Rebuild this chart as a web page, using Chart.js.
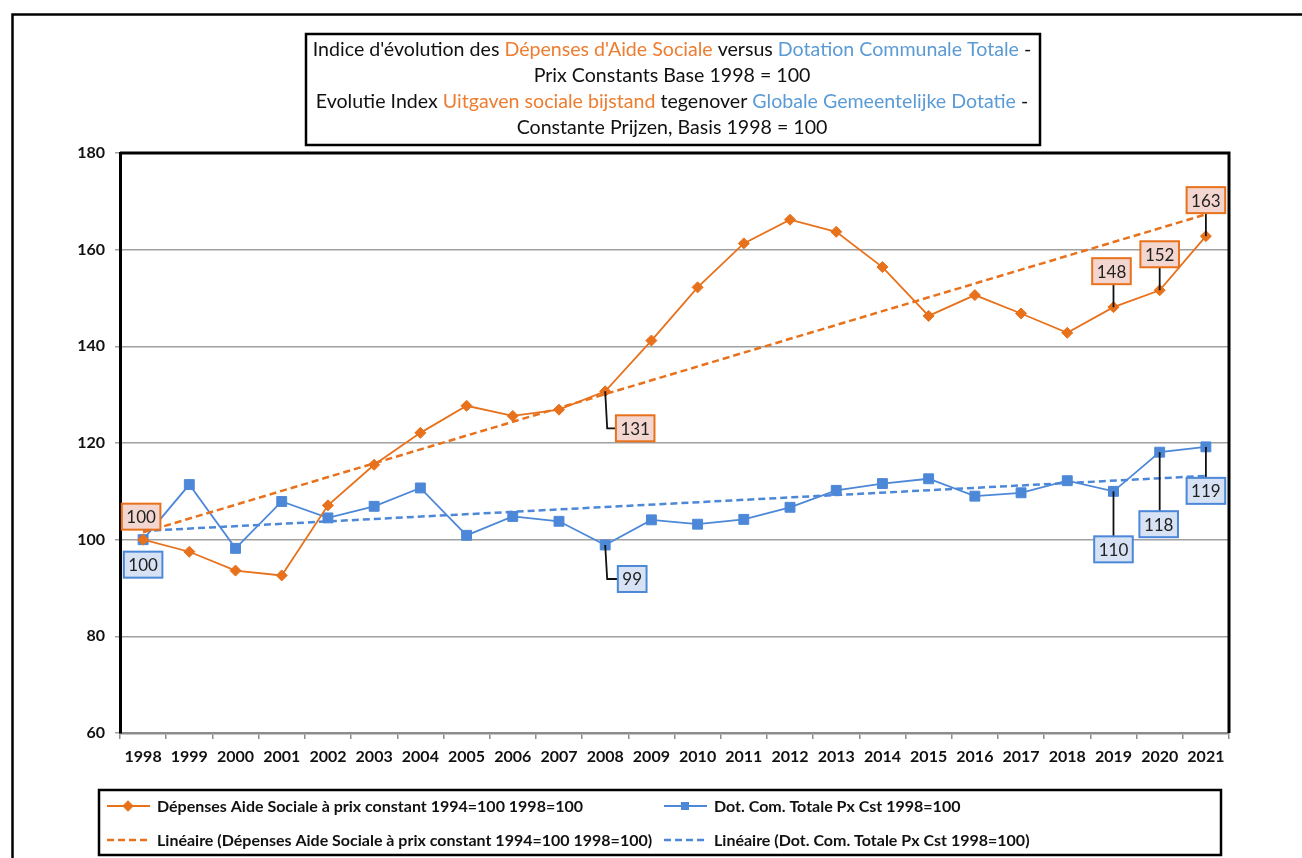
<!DOCTYPE html>
<html>
<head>
<meta charset="utf-8">
<title>Indice d'évolution - Dépenses d'Aide Sociale / Dotation Communale</title>
<script src="https://cdn.jsdelivr.net/npm/chart.js"></script>
<style>
  html, body { margin: 0; padding: 0; background: #fff; }
  #wrap { width: 1302px; height: 858px; }
</style>
</head>
<body>
<div id="wrap"><canvas id="chart" width="1302" height="858"></canvas></div>
<script>
// data
const years = ['1998','1999','2000','2001','2002','2003','2004','2005','2006','2007','2008','2009',
               '2010','2011','2012','2013','2014','2015','2016','2017','2018','2019','2020','2021'];
const aideSociale = [100, 97.5, 93.6, 92.6, 107.1, 115.5, 122.1, 127.7, 125.6, 126.9, 130.7, 141.2,
                     152.2, 161.3, 166.2, 163.7, 156.4, 146.3, 150.6, 146.8, 142.8, 148.1, 151.6, 162.8];
const dotation = [100, 111.4, 98.2, 107.9, 104.5, 106.9, 110.7, 100.9, 104.8, 103.8, 98.9, 104.1,
                  103.2, 104.2, 106.7, 110.2, 111.6, 112.6, 109.0, 109.7, 112.2, 110.0, 118.1, 119.2];
// trend lines: end points
const aideTrend = [101.5, 167.3];
const dotTrend = [101.8, 113.2];
const yTicks = [60, 80, 100, 120, 140, 160, 180];
// which points carry a value label
const aideLabelIdx = [0, 10, 21, 22, 23];
const dotLabelIdx = [0, 10, 21, 22, 23];

const legendNames = [
  'Dépenses Aide Sociale à prix constant 1994=100 1998=100',
  'Dot. Com. Totale Px Cst 1998=100',
  'Linéaire (Dépenses Aide Sociale à prix constant 1994=100 1998=100)',
  'Linéaire (Dot. Com. Totale Px Cst 1998=100)'
];
const titleLines = [
  [['Indice d\'évolution des ', 'k'], ['Dépenses d\'Aide Sociale', 'o'], [' versus ', 'k'], ['Dotation Communale Totale', 'b'], [' -', 'k']],
  [['Prix Constants Base 1998 = 100', 'k']],
  [['Evolutie Index ', 'k'], ['Uitgaven sociale bijstand', 'o'], [' tegenover ', 'k'], ['Globale Gemeentelijke Dotatie', 'b'], [' -', 'k']],
  [['Constante Prijzen, Basis 1998 = 100', 'k']]
];

const ORANGE = '#e8711c';
const BLUE = '#4d88d8';
const FONT = 'Lato, "Open Sans", sans-serif';
const txtColors = { k: '#111', o: '#ed7d31', b: '#5b9bd5' };

// label box placement: offset of box centre from the point, and leader type
const labelLayout = {
  0: { 0: { dx: -2, dy: -23, lead: 'none' }, 10: { dx: 30, dy: 37, lead: 'elbow' },
       21: { dx: -2, dy: -36, lead: 'up' }, 22: { dx: 0, dy: -36, lead: 'up' }, 23: { dx: 0, dy: -36, lead: 'up' } },
  1: { 0: { dx: 0, dy: 25, lead: 'none' }, 10: { dx: 27, dy: 34, lead: 'elbow' },
       21: { dx: 0, dy: 58, lead: 'down' }, 22: { dx: -1, dy: 72, lead: 'down' }, 23: { dx: 0, dy: 44, lead: 'down' } }
};

function trendSeries(ends) {
  const arr = years.map(() => null);
  arr[0] = ends[0];
  arr[years.length - 1] = ends[1];
  return arr;
}

const framePlugin = {
  id: 'frame',
  beforeDraw(chart) {
    const ctx = chart.ctx;
    ctx.save();
    ctx.fillStyle = '#fff';
    ctx.fillRect(0, 0, chart.width, chart.height);
    ctx.strokeStyle = '#000';
    ctx.lineWidth = 2.5;
    ctx.strokeRect(12.5, 14.5, 1400, 1000);
    ctx.restore();
  },
  afterDraw(chart) {
    const ctx = chart.ctx;
    const a = chart.chartArea;
    ctx.save();
    // plot border top/right
    ctx.strokeStyle = '#000';
    ctx.lineWidth = 3;
    ctx.beginPath();
    ctx.moveTo(a.left, a.top);
    ctx.lineTo(a.right, a.top);
    ctx.lineTo(a.right, a.bottom);
    ctx.stroke();

    // title box
    ctx.lineWidth = 2.5;
    ctx.fillStyle = '#fff';
    ctx.fillRect(306, 34, 734, 111);
    ctx.strokeRect(306, 34, 734, 111);
    ctx.font = '19.6px ' + FONT;
    ctx.textBaseline = 'middle';
    ctx.textAlign = 'left';
    const lineY = [50, 76, 102, 128];
    titleLines.forEach((parts, i) => {
      const w = parts.reduce((s, p) => s + ctx.measureText(p[0]).width, 0);
      let x = 672 - w / 2;
      parts.forEach(p => {
        ctx.fillStyle = txtColors[p[1]];
        ctx.fillText(p[0], x, lineY[i]);
        x += ctx.measureText(p[0]).width;
      });
    });

    // legend box
    ctx.strokeStyle = '#000';
    ctx.lineWidth = 2.5;
    ctx.strokeRect(99, 790, 1122, 65);
    ctx.font = 'bold 16px ' + FONT;
    const ds = chart.data.datasets;
    const slots = [[107, 806], [664, 806], [107, 840], [664, 840]];
    const order = [2, 3, 0, 1];
    slots.forEach((s, i) => {
      const d = ds[order[i]];
      ctx.save();
      ctx.strokeStyle = d.borderColor;
      ctx.lineWidth = d.borderDash ? 2.5 : 2;
      ctx.setLineDash(d.borderDash || []);
      ctx.beginPath();
      ctx.moveTo(s[0], s[1]);
      ctx.lineTo(s[0] + 43, s[1]);
      ctx.stroke();
      ctx.restore();
      if (!d.borderDash) {
        ctx.save();
        ctx.fillStyle = d.pointBackgroundColor;
        ctx.translate(s[0] + 21, s[1]);
        if (d.pointStyle === 'rectRot') ctx.rotate(Math.PI / 4);
        ctx.fillRect(-4, -4, 8, 8);
        ctx.restore();
      }
      ctx.fillStyle = '#111';
      ctx.fillText(legendNames[i], s[0] + 50, s[1] + 1);
    });
    ctx.restore();
  }
};

const labelPlugin = {
  id: 'valueLabels',
  afterDatasetsDraw(chart) {
    const ctx = chart.ctx;
    const sets = [
      { dsIndex: 2, values: aideSociale, idx: aideLabelIdx, fill: '#f3d6d0', stroke: ORANGE, lay: labelLayout[0] },
      { dsIndex: 3, values: dotation, idx: dotLabelIdx, fill: '#d7e3f4', stroke: BLUE, lay: labelLayout[1] }
    ];
    ctx.save();
    ctx.font = '17px ' + FONT;
    ctx.textAlign = 'center';
    ctx.textBaseline = 'middle';
    sets.forEach(set => {
      const meta = chart.getDatasetMeta(set.dsIndex);
      set.idx.forEach(i => {
        const pt = meta.data[i];
        const l = set.lay[i];
        const txt = String(Math.round(set.values[i]));
        const w = ctx.measureText(txt).width + 9;
        const h = 26;
        const cx = pt.x + l.dx, cy = pt.y + l.dy;
        // leader line
        ctx.strokeStyle = '#111';
        ctx.lineWidth = 1.8;
        ctx.beginPath();
        if (l.lead === 'elbow') {
          ctx.moveTo(pt.x, pt.y);
          ctx.lineTo(pt.x + 2, cy);
          ctx.lineTo(cx - w / 2, cy);
        } else if (l.lead === 'up') {
          ctx.moveTo(pt.x, pt.y);
          ctx.lineTo(pt.x, cy + h / 2);
        } else if (l.lead === 'down') {
          ctx.moveTo(pt.x, pt.y);
          ctx.lineTo(pt.x, cy - h / 2);
        }
        ctx.stroke();
        ctx.fillStyle = set.fill;
        ctx.fillRect(cx - w / 2, cy - h / 2, w, h);
        ctx.strokeStyle = set.stroke;
        ctx.lineWidth = 2;
        ctx.strokeRect(cx - w / 2, cy - h / 2, w, h);
        ctx.fillStyle = '#222';
        ctx.fillText(txt, cx, cy + 1);
      });
    });
    ctx.restore();
  }
};

new Chart(document.getElementById('chart'), {
  type: 'line',
  data: {
    labels: years,
    datasets: [
      {
        label: legendNames[2],
        data: trendSeries(aideTrend),
        borderColor: ORANGE,
        borderWidth: 2.5,
        borderDash: [7, 4],
        spanGaps: true,
        pointRadius: 0,
        pointHoverRadius: 0
      },
      {
        label: legendNames[3],
        data: trendSeries(dotTrend),
        borderColor: BLUE,
        borderWidth: 2.5,
        borderDash: [7, 4],
        spanGaps: true,
        pointRadius: 0,
        pointHoverRadius: 0
      },
      {
        label: legendNames[0],
        data: aideSociale,
        borderColor: ORANGE,
        borderWidth: 1.8,
        pointStyle: 'rectRot',
        pointRadius: 5.5,
        pointBackgroundColor: ORANGE,
        pointBorderColor: ORANGE,
        pointBorderWidth: 1,
        tension: 0
      },
      {
        label: legendNames[1],
        data: dotation,
        borderColor: BLUE,
        borderWidth: 1.8,
        pointStyle: 'rect',
        pointRadius: 7,
        pointBackgroundColor: BLUE,
        pointBorderColor: BLUE,
        pointBorderWidth: 1,
        tension: 0
      }
    ]
  },
  options: {
    responsive: false,
    animation: false,
    events: [],
    layout: { padding: { top: 153, right: 73, left: 0, bottom: 0 } },
    plugins: { legend: { display: false }, tooltip: { enabled: false }, title: { display: false } },
    scales: {
      x: {
        offset: true,
        grid: { display: true, drawOnChartArea: false, drawTicks: true, tickLength: 6, color: '#8c8c8c', lineWidth: 1.5, offset: true },
        border: { display: true, color: '#8c8c8c', width: 2.5 },
        ticks: { color: '#111', font: { family: FONT, size: 16, weight: 'bold' }, padding: 8, maxRotation: 0, autoSkip: false },
        afterFit(scale) { scale.height = 125; }
      },
      y: {
        min: 60,
        max: 180,
        afterBuildTicks(scale) { scale.ticks = yTicks.map(v => ({ value: v })); },
        grid: { color: '#a0a0a0', lineWidth: 1.5, drawTicks: true, tickLength: 5 },
        border: { display: true, color: '#000', width: 3 },
        ticks: { color: '#111', font: { family: FONT, size: 16, weight: 'bold' }, padding: 10 },
        afterFit(scale) { scale.width = 120; }
      }
    }
  },
  plugins: [framePlugin, labelPlugin]
});
</script>
</body>
</html>
